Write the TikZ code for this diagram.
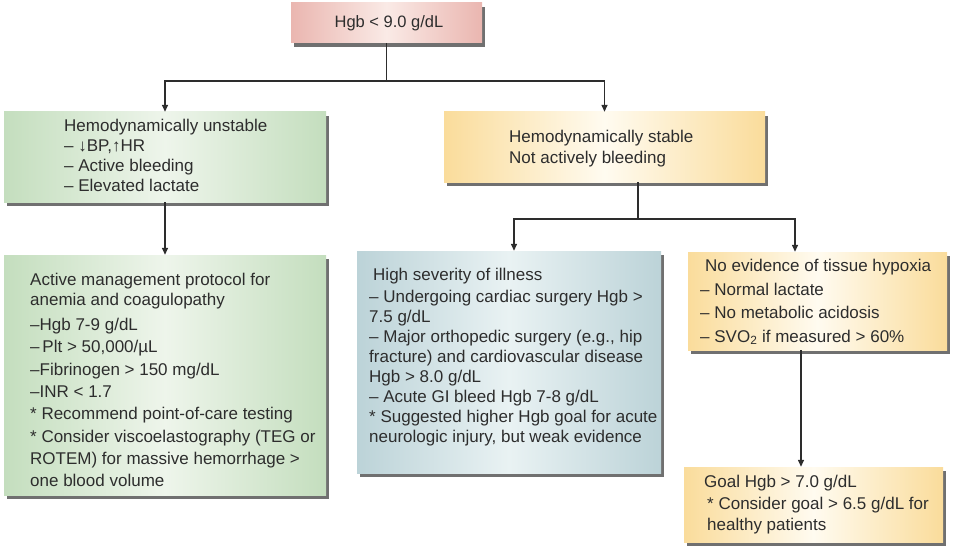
\documentclass[tikz,border=0pt]{standalone}
\usepackage{fontspec}
\setmainfont{Liberation Sans}
\usetikzlibrary{shadows,arrows.meta}
\definecolor{pinkE}{RGB}{234,182,176}
\definecolor{pinkM}{RGB}{250,234,230}
\definecolor{greenE}{RGB}{196,222,190}
\definecolor{greenM}{RGB}{238,245,235}
\definecolor{yelE}{RGB}{250,220,155}
\definecolor{yelM}{RGB}{255,251,240}
\definecolor{blueE}{RGB}{188,211,216}
\definecolor{blueM}{RGB}{233,242,243}
\definecolor{ink}{RGB}{45,45,45}
\begin{document}
\begin{tikzpicture}[x=1pt,y=-1pt,
  box/.style={draw=none, inner sep=0pt,
    drop shadow={shadow xshift=3pt,shadow yshift=-4pt,fill=black!75,opacity=0.75}},
  pinkbox/.style={box, left color=pinkE, right color=pinkE, middle color=pinkM},
  greenbox/.style={box, left color=greenE, right color=greenE, middle color=greenM},
  yelbox/.style={box, left color=yelE, right color=yelE, middle color=yelM},
  bluebox/.style={box, left color=blueE, right color=blueE, middle color=blueM},
  txt/.style={anchor=north west, inner sep=0pt, align=left, text=ink},
  arr/.style={draw=ink, line width=1.4pt, -{Triangle[length=7pt,width=6pt]}},
  ln/.style={draw=ink, line width=1.4pt}]
\path[use as bounding box] (0,0) rectangle (961,559);

% boxes
\node[pinkbox, minimum width=191pt, minimum height=40pt] (top) at (386.5,23) {};
\node[greenbox, minimum width=322pt, minimum height=90pt] (g1) at (165,157) {};
\node[yelbox, minimum width=321pt, minimum height=70pt] (y1) at (604.5,147) {};
\node[greenbox, minimum width=322pt, minimum height=240pt] (g2) at (165,375) {};
\node[bluebox, minimum width=304pt, minimum height=222pt] (b) at (509,362) {};
\node[yelbox, minimum width=259pt, minimum height=98pt] (y2) at (817.5,301) {};
\node[yelbox, minimum width=259pt, minimum height=75pt] (y3) at (813.5,504.5) {};

% texts
\node[text=ink, inner sep=0pt, font=\fontsize{16.5}{20}\selectfont] (topt) at (389,23) {Hgb < 9.0 g/dL};

\node[txt, font=\fontsize{17}{20}\selectfont] (g1t) at (64,119)
  {Hemodynamically unstable\\– ↓BP,↑HR\\– Active bleeding\\– Elevated lactate};

\node[txt, font=\fontsize{17}{21}\selectfont] (y1t) at (509,130)
  {Hemodynamically stable\\Not actively bleeding};

\node[txt, font=\fontsize{17}{22.3}\selectfont] (g2t) at (30,273)
  {Active management protocol for\\[-2pt]anemia and coagulopathy\\[2.5pt]%
   –Hgb 7-9 g/dL\\–\,Plt > 50,000/µL\\–Fibrinogen > 150 mg/dL\\–INR < 1.7\\%
   * Recommend point-of-care testing\\* Consider viscoelastography (TEG or\\%
   ROTEM) for massive hemorrhage >\\one blood volume};

\node[txt, font=\fontsize{17}{20}\selectfont] (bt) at (369,268)
  {\hspace*{4pt}High severity of illness\\[2pt]– Undergoing cardiac surgery Hgb >\\%
   7.5 g/dL\\– Major orthopedic surgery (e.g., hip\\fracture) and cardiovascular disease\\%
   Hgb > 8.0 g/dL\\– Acute GI bleed Hgb 7-8 g/dL\\* Suggested higher Hgb goal for acute\\%
   neurologic injury, but weak evidence};

\node[txt, font=\fontsize{17}{23.5}\selectfont] (y2t) at (700,259)
  {\hspace*{5pt}No evidence of tissue hypoxia\\– Normal lactate\\– No metabolic acidosis\\%
   – SVO\textsubscript{2} if measured > 60\%};

\node[txt, font=\fontsize{17}{21.5}\selectfont] (y3t) at (704,475)
  {Goal Hgb > 7.0 g/dL\\\hspace*{3pt}* Consider goal > 6.5 g/dL for\\\hspace*{3pt}healthy patients};

% connectors
\coordinate (j1) at (386.5,81);
\draw[ln] (top.south) -- (j1);
\draw[arr] (j1) -| (g1.north);
\draw[arr] (j1) -| (y1.north);
\draw[arr] (g1.south) -- (g2.north);
\coordinate (j2) at (638,219);
\draw[ln] (j2 |- y1.south) -- (j2);
\draw[arr] (j2) -| ([xshift=5pt]b.north);
\draw[arr] (j2) -| ([xshift=-22.5pt]y2.north);
\draw[arr] ([xshift=-16.5pt]y2.south) -- ([xshift=-12.5pt]y3.north);
\end{tikzpicture}
\end{document}
